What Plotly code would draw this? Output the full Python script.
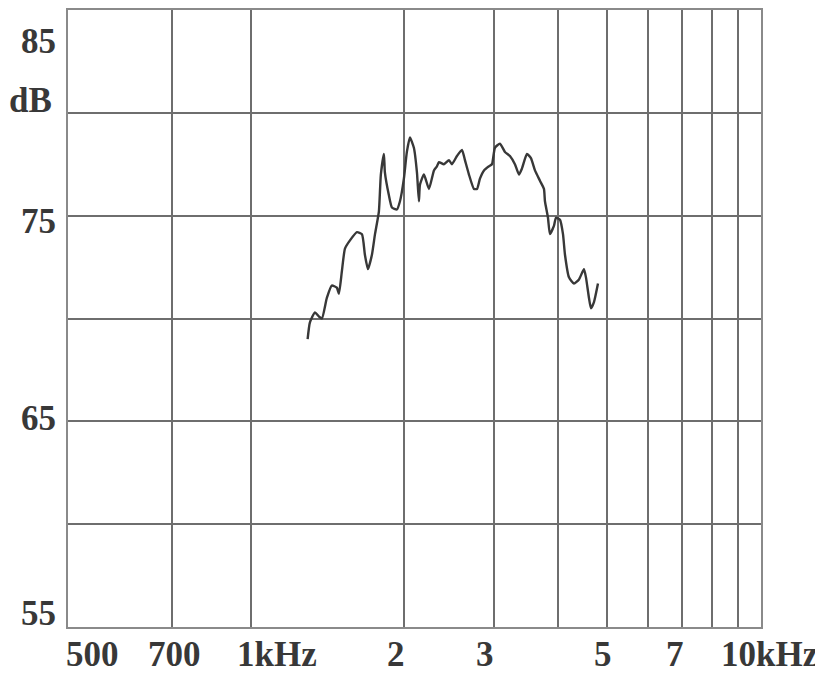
import plotly.graph_objects as go
import numpy as np

# Frequency response curve (Hz, dB)
freq_hz = [1292, 1305, 1335, 1359, 1378, 1409, 1441, 1474, 1488, 1508, 1529, 1564, 1614, 1651,
           1673, 1696, 1727, 1751, 1782, 1798, 1823, 1831, 1864, 1890, 1933, 1960, 1995, 2022,
           2050, 2087, 2116, 2135, 2145, 2184, 2234, 2285, 2316, 2337, 2390, 2445, 2478, 2535,
           2593, 2628, 2676, 2737, 2775, 2812, 2864, 2929, 2969, 3009, 3078, 3148, 3220, 3293,
           3354, 3400, 3477, 3540, 3605, 3687, 3754, 3771, 3823, 3857, 3927, 3963, 4036, 4091,
           4128, 4203, 4299, 4397, 4497, 4538, 4600, 4642, 4705, 4791]
level_db = [69.0, 69.8, 70.3, 70.1, 70.0, 71.0, 71.6, 71.5, 71.2, 72.3, 73.4, 73.8, 74.2, 74.1,
            73.1, 72.4, 73.1, 74.1, 75.2, 77.0, 78.0, 77.1, 76.0, 75.4, 75.3, 75.7, 76.8, 78.1,
            78.8, 78.3, 77.1, 75.7, 76.5, 77.0, 76.3, 77.2, 77.4, 77.6, 77.5, 77.7, 77.5, 77.9,
            78.2, 77.7, 77.0, 76.3, 76.3, 76.8, 77.2, 77.4, 77.5, 78.3, 78.5, 78.1, 77.9, 77.5,
            77.0, 77.3, 78.0, 77.8, 77.2, 76.7, 76.3, 75.7, 74.9, 74.1, 74.5, 74.9, 74.8, 74.1,
            73.1, 72.0, 71.7, 71.9, 72.4, 72.0, 71.0, 70.5, 70.8, 71.7]

# Grid lines
x_grid = [700, 1000, 2000, 3000, 4000, 5000, 6000, 7000, 8000, 9000, 10000]
y_grid = [55, 60, 65, 70, 75, 80, 85]

# Tick labels
x_label_vals = [500, 700, 1000, 2000, 3000, 5000, 7000, 10000]
x_label_text = ["500", "700", "1kHz", "2", "3", "5", "7", "10kHz"]
y_label_vals = [85, 75, 65, 55]
y_label_text = ["85", "75", "65", "55"]
y_unit = "dB"

# style offsets for the labels (pixels)
x_label_shift = [-5, 3, 26, -8, -9, -4, -7, 8]
y_label_shift = [-31, -6, 3, 14]

x_range = [np.log10(438), 4.0]
y_range = [55, 85]

fig = go.Figure()
fig.add_trace(go.Scatter(
    x=freq_hz, y=level_db, mode="lines",
    line=dict(color="#383838", width=2.4, shape="spline", smoothing=0.5),
    showlegend=False, hoverinfo="skip"))

font = dict(family="Liberation Serif", size=35, color="#383838", weight="bold")

annotations = []
for v, t, s in zip(x_label_vals, x_label_text, x_label_shift):
    annotations.append(dict(x=np.log10(v), y=0, xref="x", yref="paper", text=t,
                            showarrow=False, xanchor="center", yanchor="top",
                            xshift=s, yshift=-6, font=font))
for v, t, s in zip(y_label_vals, y_label_text, y_label_shift):
    annotations.append(dict(x=0, y=v, xref="paper", yref="y", text=t,
                            showarrow=False, xanchor="right", yanchor="middle",
                            xshift=-10, yshift=s, font=font))
annotations.append(dict(x=0, y=80, xref="paper", yref="y", text=y_unit,
                        showarrow=False, xanchor="right", yanchor="middle",
                        xshift=-14, yshift=12, font=font))

fig.update_layout(
    width=815, height=673,
    margin=dict(l=60, r=62, t=0, b=54),
    paper_bgcolor="white", plot_bgcolor="white",
    annotations=annotations,
    xaxis=dict(type="log", range=x_range, tickvals=x_grid, showticklabels=False,
               showgrid=True, gridcolor="#6e6e6e", gridwidth=1.5, zeroline=False,
               showline=True, mirror=True, linecolor="#8a8a8a", linewidth=1.5, ticks=""),
    yaxis=dict(range=y_range, tickvals=y_grid, showticklabels=False,
               showgrid=True, gridcolor="#6e6e6e", gridwidth=1.5, zeroline=False,
               showline=True, mirror=True, linecolor="#8a8a8a", linewidth=1.5, ticks=""),
)

fig.write_html("out.html")
